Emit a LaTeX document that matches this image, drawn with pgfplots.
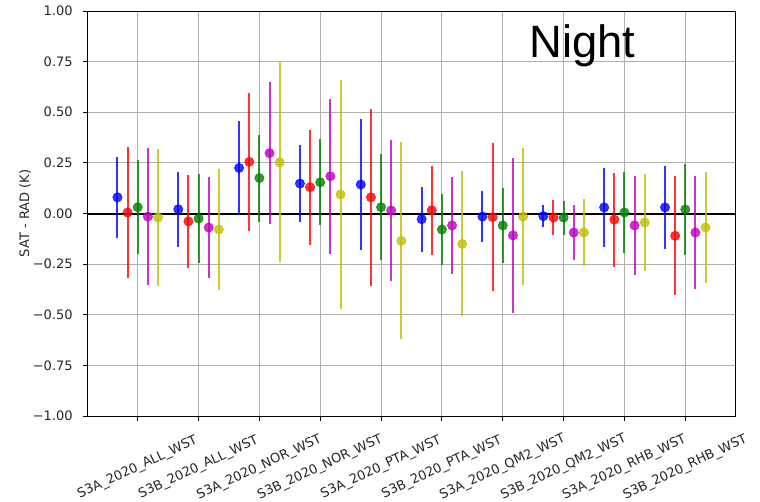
\documentclass[border=0pt]{standalone}
\usepackage{fontspec}
\setmainfont{DejaVu Sans}
\newfontfamily\nightfont{Liberation Sans}
\usepackage{pgfplots}
\pgfplotsset{compat=1.18}
\definecolor{mb}{rgb}{0,0,1}
\definecolor{mr}{rgb}{1,0,0}
\definecolor{mg}{rgb}{0,0.5,0}
\definecolor{mm}{rgb}{0.75,0,0.75}
\definecolor{my}{rgb}{0.75,0.75,0}
\definecolor{gridc}{rgb}{0.69,0.69,0.69}
\pgfplotsset{
  ebs/.style={only marks, mark=*, mark size=3.5pt, color=#1, opacity=0.8,
    error bars/.cd, y dir=both, y explicit, error mark=none,
    error bar style={line width=1.5pt, color=#1, opacity=0.8}}
}
\begin{document}
\begin{tikzpicture}
\useasboundingbox (-66pt,-63.75pt) rectangle (504pt,312pt);
\begin{axis}[
  at={(0,0)}, anchor=south west, scale only axis,
  width=485.25pt, height=303.75pt,
  xmin=-0.817, xmax=9.817, ymin=-1, ymax=1,
  axis line style={line width=0.75pt},
  tick align=outside, tick pos=left,
  major tick length=3.75pt,
  tick style={black, line width=0.75pt},
  grid=major, grid style={gridc, line width=0.75pt},
  xtick={0,1,2,3,4,5,6,7,8,9},
  xticklabels={S3A\_2020\_ALL\_WST,S3B\_2020\_ALL\_WST,S3A\_2020\_NOR\_WST,S3B\_2020\_NOR\_WST,S3A\_2020\_PTA\_WST,S3B\_2020\_PTA\_WST,S3A\_2020\_QM2\_WST,S3B\_2020\_QM2\_WST,S3A\_2020\_RHB\_WST,S3B\_2020\_RHB\_WST},
  ytick={-1,-0.75,-0.5,-0.25,0,0.25,0.5,0.75,1},
  yticklabels={−1.00,−0.75,−0.50,−0.25,0.00,0.25,0.50,0.75,1.00},
  tick label style={font=\fontsize{9.75}{11}\selectfont, text=black!85},
  xticklabel style={yshift=-34.9pt, rotate=25, anchor=center},
  yticklabel style={anchor=east, xshift=-4.2pt},
  ylabel={SAT - RAD (K)},
  ylabel style={at={(axis description cs:-0.0974,0.5)}, anchor=center, font=\fontsize{9.75}{11}\selectfont, text=black!85},
  clip=false,
]
\addplot[black, line width=1.5pt] coordinates {(-0.817,0) (9.817,0)};

\addplot[ebs=mb] coordinates {
(-0.3333,0.080) +- (0,0.200)
(0.6667,0.021) +- (0,0.186)
(1.6667,0.225) +- (0,0.234)
(2.6667,0.148) +- (0,0.190)
(3.6667,0.143) +- (0,0.325)
(4.6667,-0.028) +- (0,0.160)
(5.6667,-0.015) +- (0,0.124)
(6.6667,-0.013) +- (0,0.055)
(7.6667,0.030) +- (0,0.195)
(8.6667,0.030) +- (0,0.203)
};
\addplot[ebs=mr] coordinates {
(-0.1667,0.005) +- (0,0.322)
(0.8333,-0.039) +- (0,0.228)
(1.8333,0.255) +- (0,0.342)
(2.8333,0.130) +- (0,0.284)
(3.8333,0.080) +- (0,0.436)
(4.8333,0.016) +- (0,0.221)
(5.8333,-0.018) +- (0,0.367)
(6.8333,-0.020) +- (0,0.087)
(7.8333,-0.030) +- (0,0.232)
(8.8333,-0.110) +- (0,0.293)
};
\addplot[ebs=mg] coordinates {
(0,0.031) +- (0,0.231)
(1,-0.025) +- (0,0.218)
(2,0.175) +- (0,0.215)
(3,0.154) +- (0,0.213)
(4,0.031) +- (0,0.263)
(5,-0.079) +- (0,0.173)
(6,-0.059) +- (0,0.186)
(7,-0.020) +- (0,0.084)
(8,0.005) +- (0,0.198)
(9,0.020) +- (0,0.225)
};
\addplot[ebs=mm] coordinates {
(0.1667,-0.015) +- (0,0.337)
(1.1667,-0.069) +- (0,0.250)
(2.1667,0.298) +- (0,0.351)
(3.1667,0.184) +- (0,0.382)
(4.1667,0.015) +- (0,0.348)
(5.1667,-0.059) +- (0,0.239)
(6.1667,-0.108) +- (0,0.384)
(7.1667,-0.094) +- (0,0.138)
(8.1667,-0.059) +- (0,0.244)
(9.1667,-0.094) +- (0,0.278)
};
\addplot[ebs=my] coordinates {
(0.3333,-0.020) +- (0,0.339)
(1.3333,-0.079) +- (0,0.297)
(2.3333,0.253) +- (0,0.493)
(3.3333,0.094) +- (0,0.564)
(4.3333,-0.135) +- (0,0.487)
(5.3333,-0.150) +- (0,0.358)
(6.3333,-0.015) +- (0,0.337)
(7.3333,-0.094) +- (0,0.165)
(8.3333,-0.044) +- (0,0.238)
(9.3333,-0.069) +- (0,0.272)
};
\node[anchor=base, inner sep=0pt, font=\nightfont\fontsize{34}{40}\selectfont] at (axis cs:7.31,0.771) {Night};
\end{axis}
\end{tikzpicture}
\end{document}
